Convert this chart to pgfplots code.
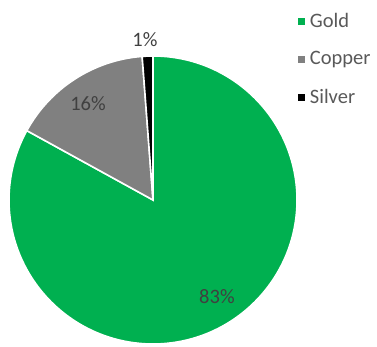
\documentclass[border=0pt]{standalone}
\usepackage{fontspec}
\setmainfont{Carlito}
\usepackage{pgfplots}
\usepackage{pgfplotstable}
\pgfplotsset{compat=1.18}
\definecolor{goldc}{HTML}{00B050}
\definecolor{copperc}{HTML}{808080}
\definecolor{silverc}{HTML}{000000}
\definecolor{lblc}{HTML}{404040}
\definecolor{legc}{HTML}{595959}
\pgfplotstableread{
name value pct col lx ly
Gold 83.0 83 goldc 0.444 -0.674
Copper 15.8 16 copperc -0.451 0.667
Silver 1.2 1 silverc -0.056 1.111
}\piedata
\newcommand\lblfont{\fontsize{20.5}{22}\selectfont}
\newcommand\legfont{\fontsize{20.5}{22}\selectfont}
\begin{document}
\begin{tikzpicture}
\useasboundingbox (0,0) rectangle (377pt,347pt);
\begin{axis}[at={(9pt,3pt)}, anchor=south west, scale only axis,
  width=288pt, height=288pt, xmin=-1, xmax=1, ymin=-1, ymax=1,
  hide axis, clip=false,
  legend style={draw=none, fill=none, at={(axis cs:1.005,1.315)}, anchor=north west,
    font=\legfont, text=legc, row sep=19pt, inner sep=0pt,
    /tikz/every odd column/.append style={column sep=4pt}},
  legend cell align=left]
\addlegendimage{only marks, mark=square*, mark size=3pt, goldc}
\addlegendentry{Gold}
\addlegendimage{only marks, mark=square*, mark size=3pt, copperc}
\addlegendentry{Copper}
\addlegendimage{only marks, mark=square*, mark size=3pt, silverc}
\addlegendentry{Silver}
\pgfmathsetmacro\startang{90}
\pgfplotsforeachungrouped \i in {0,1,2}{%
  \pgfplotstablegetelem{\i}{value}\of\piedata \let\sv\pgfplotsretval
  \pgfplotstablegetelem{\i}{pct}\of\piedata \let\spct\pgfplotsretval
  \pgfplotstablegetelem{\i}{col}\of\piedata \let\scol\pgfplotsretval
  \pgfplotstablegetelem{\i}{lx}\of\piedata \let\slx\pgfplotsretval
  \pgfplotstablegetelem{\i}{ly}\of\piedata \let\sly\pgfplotsretval
  \pgfmathsetmacro\endang{\startang-3.6*\sv}
  \edef\temp{\noexpand\fill[\scol, draw=white, line width=1.6pt] (axis cs:0,0) -- (axis cs:{cos(\startang)},{sin(\startang)}) arc[start angle=\startang, end angle=\endang, radius=144pt] -- cycle;
    \noexpand\node[text=lblc, font=\noexpand\lblfont] at (axis cs:\slx,\sly) {\spct\noexpand\%};}%
  \temp
  \global\let\startang\endang
}
\end{axis}
\end{tikzpicture}
\end{document}
